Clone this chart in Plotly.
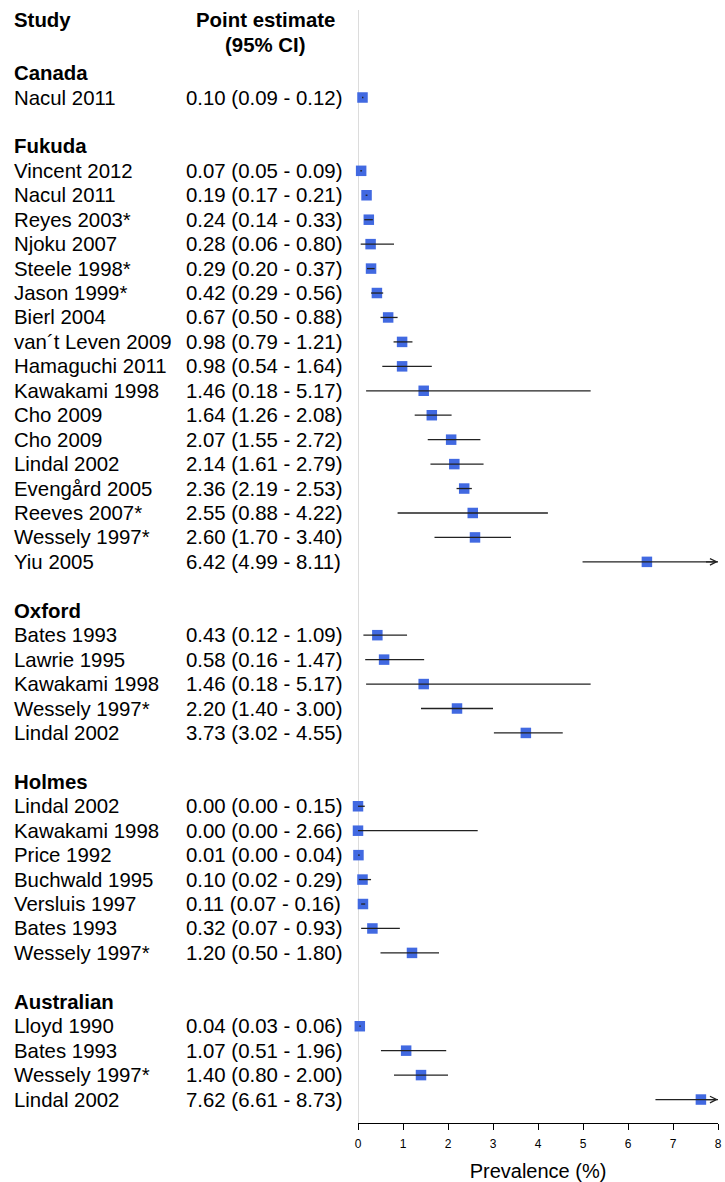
import plotly.graph_objects as go

# ---------------- data ----------------
groups = ["Canada", "Fukuda", "Oxford", "Holmes", "Australian"]

canada_studies = ["Nacul 2011"]
canada_est = [0.10]
canada_lo = [0.09]
canada_hi = [0.12]

fukuda_studies = ["Vincent 2012", "Nacul 2011", "Reyes 2003*", "Njoku 2007", "Steele 1998*",
                  "Jason 1999*", "Bierl 2004", "van\u00b4t Leven 2009", "Hamaguchi 2011",
                  "Kawakami 1998", "Cho 2009", "Cho 2009", "Lindal 2002", "Eveng\u00e5rd 2005",
                  "Reeves 2007*", "Wessely 1997*", "Yiu 2005"]
fukuda_est = [0.07, 0.19, 0.24, 0.28, 0.29, 0.42, 0.67, 0.98, 0.98, 1.46, 1.64, 2.07, 2.14, 2.36, 2.55, 2.60, 6.42]
fukuda_lo = [0.05, 0.17, 0.14, 0.06, 0.20, 0.29, 0.50, 0.79, 0.54, 0.18, 1.26, 1.55, 1.61, 2.19, 0.88, 1.70, 4.99]
fukuda_hi = [0.09, 0.21, 0.33, 0.80, 0.37, 0.56, 0.88, 1.21, 1.64, 5.17, 2.08, 2.72, 2.79, 2.53, 4.22, 3.40, 8.11]

oxford_studies = ["Bates 1993", "Lawrie 1995", "Kawakami 1998", "Wessely 1997*", "Lindal 2002"]
oxford_est = [0.43, 0.58, 1.46, 2.20, 3.73]
oxford_lo = [0.12, 0.16, 0.18, 1.40, 3.02]
oxford_hi = [1.09, 1.47, 5.17, 3.00, 4.55]

holmes_studies = ["Lindal 2002", "Kawakami 1998", "Price 1992", "Buchwald 1995", "Versluis 1997",
                  "Bates 1993", "Wessely 1997*"]
holmes_est = [0.00, 0.00, 0.01, 0.10, 0.11, 0.32, 1.20]
holmes_lo = [0.00, 0.00, 0.00, 0.02, 0.07, 0.07, 0.50]
holmes_hi = [0.15, 2.66, 0.04, 0.29, 0.16, 0.93, 1.80]

australian_studies = ["Lloyd 1990", "Bates 1993", "Wessely 1997*", "Lindal 2002"]
australian_est = [0.04, 1.07, 1.40, 7.62]
australian_lo = [0.03, 0.51, 0.80, 6.61]
australian_hi = [0.06, 1.96, 2.00, 8.73]

x_ticks = [0, 1, 2, 3, 4, 5, 6, 7, 8]
x_max = 8

group_data = [
    (canada_studies, canada_est, canada_lo, canada_hi),
    (fukuda_studies, fukuda_est, fukuda_lo, fukuda_hi),
    (oxford_studies, oxford_est, oxford_lo, oxford_hi),
    (holmes_studies, holmes_est, holmes_lo, holmes_hi),
    (australian_studies, australian_est, australian_lo, australian_hi),
]

# ---------------- layout geometry ----------------
W, H = 725, 1182
ML, MR, MT, MB = 358, 3, 10, 59
PW = W - ML - MR
FONT = "Liberation Sans, Arial, sans-serif"
FS = 20.4
BLUE = "#4169E1"


def px_to_paper(px):
    return (px - ML) / PW


def txt(px, y, text, anchor="left"):
    return dict(x=px_to_paper(px), y=y, xref="paper", yref="y", text=text,
                showarrow=False, xanchor=anchor, yanchor="middle", borderpad=0,
                font=dict(size=FS, family=FONT, color="black"))


fig = go.Figure()
annotations = []

# Headers
annotations.append(txt(9, -2.17, "<b>Study</b>"))
annotations.append(txt(264, -2.17, "<b>Point estimate</b>", "center"))
annotations.append(txt(264, -1.13, "<b>(95% CI)</b>", "center"))

row = 0
all_rows, all_est, all_lo, all_hi = [], [], [], []
for gname, (studies, est, lo, hi) in zip(groups, group_data):
    annotations.append(txt(9, row, f"<b>{gname}</b>"))
    row += 1
    for s, e, l, h in zip(studies, est, lo, hi):
        annotations.append(txt(9, row, s))
        annotations.append(txt(183, row, f"{e:.2f} ({l:.2f} - {h:.2f})"))
        all_rows.append(row)
        all_est.append(e)
        all_lo.append(l)
        all_hi.append(h)
        row += 1
    row += 1  # blank line between groups

last_row = row - 2
y_bottom = last_row + 1.0 - 0.04
row_px = 24.44
y_top = y_bottom - (H - MT - MB) / row_px

# markers
fig.add_trace(go.Scatter(x=all_est, y=all_rows, mode="markers",
                         marker=dict(symbol="square", size=10.5, color=BLUE, line=dict(width=0)),
                         cliponaxis=False, showlegend=False, hoverinfo="skip"))

# CI lines (drawn over markers)
lx, ly = [], []
for r, l, h in zip(all_rows, all_lo, all_hi):
    lx += [l, min(h, x_max), None]
    ly += [r, r, None]
fig.add_trace(go.Scatter(x=lx, y=ly, mode="lines", line=dict(color="#222222", width=1.3),
                         cliponaxis=False, showlegend=False, hoverinfo="skip"))

# arrows for truncated intervals
for r, h in zip(all_rows, all_hi):
    if h > x_max:
        annotations.append(dict(x=x_max, y=r, xref="x", yref="y", ax=x_max - 0.3, ay=r,
                                axref="x", ayref="y", showarrow=True, arrowhead=5,
                                arrowsize=1, arrowwidth=1.3, arrowcolor="#222222", text=""))

# vertical reference line at 0
fig.add_shape(type="line", x0=0, x1=0, xref="x", y0=0, y1=1, yref="paper",
              line=dict(color="#d0d0d0", width=1.5), layer="below")

fig.update_layout(
    width=W, height=H,
    margin=dict(l=ML, r=MR, t=MT, b=MB),
    paper_bgcolor="white", plot_bgcolor="white",
    font=dict(family=FONT, color="black"),
    annotations=annotations,
    xaxis=dict(range=[0, x_max], tickvals=x_ticks, showgrid=False, zeroline=False,
               showline=True, linecolor="black", linewidth=1, ticks="outside", ticklen=6,
               tickcolor="black", tickfont=dict(size=12, family=FONT, color="black"),
               ticklabelstandoff=4, ticklabeloverflow="allow",
               title=dict(text="Prevalence (%)", font=dict(size=20, family=FONT, color="black"), standoff=13)),
    yaxis=dict(range=[y_bottom, y_top], visible=False, showgrid=False, zeroline=False),
)

fig.write_html("out.html", config={"displayModeBar": False},
               post_script="document.body.style.margin='0';document.body.style.overflow='hidden';")
